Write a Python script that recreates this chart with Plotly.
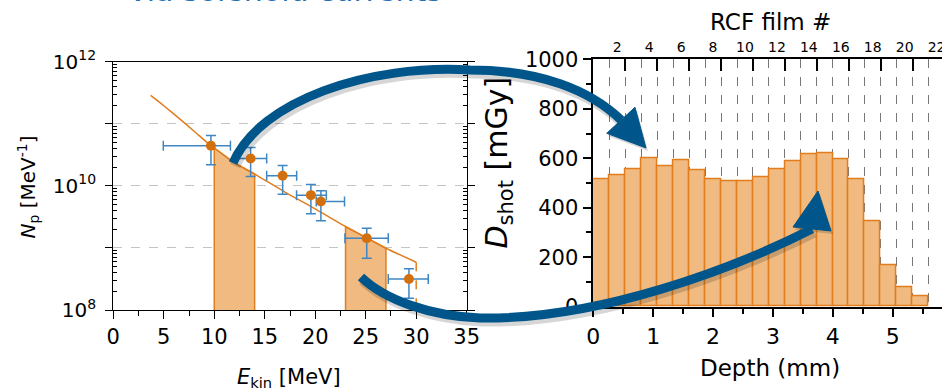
import plotly.graph_objects as go

W, H = 942, 389
FONT = "DejaVu Sans"

# ---------------- Left panel: proton spectrum ----------------
e_kin = [9.67, 13.6, 16.77, 19.57, 20.56, 25.1, 29.28]
n_p = [4.42e10, 2.75e10, 1.45e10, 7.08e9, 5.58e9, 1.43e9, 3.16e8]
e_lo = [4.95, 12.22, 15.19, 18.15, 20.1, 22.94, 27.23]
e_hi = [11.6, 15.19, 18.16, 21.1, 22.9, 27.23, 31.19]
n_lo = [2.18e10, 1.41e10, 7.35e9, 3.55e9, 2.75e9, 6.8e8, 1.55e8]
n_hi = [6.47e10, 4.15e10, 2.12e10, 1.05e10, 8.3e9, 2.07e9, 4.6e8]

fit_e = [3.7, 5, 6.6, 8, 9.67, 10, 12, 14, 17, 20, 23, 25, 27, 30]
fit_n = [2.86e11, 1.95e11, 1.19e11, 7.59e10, 4.42e10, 4.07e10, 2.34e10,
         1.55e10, 7.94e9, 4.27e9, 2.21e9, 1.48e9, 9.89e8, 5.89e8]

windows = [(10, 14), (23, 27)]
cutoff_e = 30
y_floor = 1e8

# ---------------- Right panel: depth dose ----------------
film_no = list(range(1, 22))
dose = [515, 530, 557, 600, 567, 590, 551, 515, 508, 508, 524, 557,
        589, 617, 620, 596, 516, 345, 166, 77, 44]
film_labels = list(range(2, 23, 2))

ORANGE = "#E07E1E"
FILL = "#F0BA80"
DOT = "#D2700F"
EBLUE = "#3F86C2"
ARROW = "#00568A"

fig = go.Figure()

for lo, hi in windows:
    xs = [lo] + [e for e in fit_e if lo <= e <= hi] + [hi]
    ys = [y_floor] + [n for e, n in zip(fit_e, fit_n) if lo <= e <= hi] + [y_floor]
    fig.add_trace(go.Scatter(x=xs, y=ys, mode="lines", fill="toself",
                             fillcolor=FILL, line=dict(color=ORANGE, width=1.5),
                             xaxis="x", yaxis="y", hoverinfo="skip"))

fig.add_trace(go.Scatter(x=fit_e, y=fit_n, mode="lines",
                         line=dict(color=ORANGE, width=1.5, shape="spline", smoothing=0.6),
                         xaxis="x", yaxis="y", hoverinfo="skip"))
fig.add_trace(go.Scatter(x=[cutoff_e, cutoff_e], y=[fit_n[-1], y_floor], mode="lines",
                         line=dict(color=ORANGE, width=1.5, dash="dash"),
                         xaxis="x", yaxis="y", hoverinfo="skip"))

fig.add_trace(go.Scatter(
    x=e_kin, y=n_p, mode="markers",
    marker=dict(color=DOT, size=10),
    error_x=dict(type="data", symmetric=False,
                 array=[h - e for h, e in zip(e_hi, e_kin)],
                 arrayminus=[e - l for e, l in zip(e_kin, e_lo)],
                 color=EBLUE, thickness=1.5, width=5),
    error_y=dict(type="data", symmetric=False,
                 array=[h - n for h, n in zip(n_hi, n_p)],
                 arrayminus=[n - l for n, l in zip(n_p, n_lo)],
                 color=EBLUE, thickness=1.5, width=5),
    xaxis="x", yaxis="y", hoverinfo="skip"))

fig.add_trace(go.Bar(x=film_no, y=dose, width=1, xaxis="x3", yaxis="y2",
                     marker=dict(color=FILL, line=dict(color=ORANGE, width=1.5)),
                     hoverinfo="skip"))
fig.add_trace(go.Scatter(x=[0], y=[0], mode="markers", marker=dict(opacity=0),
                         xaxis="x2", yaxis="y2", hoverinfo="skip"))
fig.add_trace(go.Scatter(x=[1], y=[0], mode="markers", marker=dict(opacity=0),
                         xaxis="x4", yaxis="y2", hoverinfo="skip"))

decades = [1e8, 1e9, 1e10, 1e11, 1e12]
dec_text = ["10<sup>8</sup>", "", "10<sup>10</sup>", "", "10<sup>12</sup>"]
minor_log = [k * d for d in decades[:-1] for k in range(2, 10)]

film_w = 5.6 / len(film_no)
x2_max = (W - 593.3) / 59.88
x3_range = [0.5, 0.5 + x2_max / film_w]

axis_common = dict(showgrid=False, zeroline=False, showline=True,
                   linecolor="black", tickcolor="black")

fig.update_layout(
    width=W, height=H, margin=dict(l=0, r=0, t=0, b=0, autoexpand=False),
    paper_bgcolor="white", plot_bgcolor="rgba(0,0,0,0)",
    showlegend=False, hovermode=False, bargap=0,
    font=dict(family=FONT, color="black"),
    xaxis=dict(**axis_common, domain=[113.3 / W, 466.7 / W], anchor="y",
               range=[0, 35], tickmode="array", tickvals=list(range(0, 36, 5)),
               ticks="outside", ticklen=8, tickwidth=1.2, linewidth=1.3,
               mirror=True, tickfont=dict(size=21),
               minor=dict(tick0=0, dtick=2.5, ticks="outside", ticklen=5,
                          tickwidth=1.2, tickcolor="black")),
    yaxis=dict(**axis_common, domain=[1 - 310 / H, 1 - 61.7 / H], anchor="x",
               type="log", range=[8, 12], tickmode="array", tickvals=decades,
               ticktext=dec_text, ticks="outside", ticklen=7, tickwidth=1.2,
               ticklabelstandoff=5,
               linewidth=1.3, mirror="allticks", tickfont=dict(size=20)),
    xaxis2=dict(**axis_common, domain=[593.3 / W, 1], anchor="y2",
                range=[0, x2_max], tickmode="array", tickvals=[0, 1, 2, 3, 4, 5],
                ticks="outside", ticklen=9, tickwidth=1.5, linewidth=1.5,
                tickfont=dict(size=22),
                minor=dict(tick0=0, dtick=0.5, ticks="outside", ticklen=6,
                           tickwidth=1.5, tickcolor="black")),
    yaxis2=dict(**axis_common, domain=[1 - 306.7 / H, 1 - 59.3 / H], anchor="x2",
                range=[0, 1000], tickmode="array", tickvals=list(range(0, 1001, 200)),
                ticks="outside", ticklen=9, tickwidth=1.5, linewidth=1.5,
                tickfont=dict(size=21),
                minor=dict(tick0=0, dtick=100, ticks="outside", ticklen=6,
                           tickwidth=1.5, tickcolor="black")),
    xaxis3=dict(showgrid=False, zeroline=False, showline=True, linecolor="black",
                linewidth=1.5, overlaying="x2", side="top", anchor="y2",
                range=x3_range, tickmode="array", tickvals=film_labels,
                ticktext=[str(v) for v in film_labels], ticks="",
                ticklabeloverflow="allow", tickfont=dict(size=14),
                minor=dict(tickmode="array",
                           tickvals=[n + 0.5 for n in film_no],
                           showgrid=True, griddash="dash", gridcolor="#777777",
                           gridwidth=1, ticks="")),
    xaxis4=dict(showgrid=False, zeroline=False, showline=False,
                overlaying="x2", side="top", anchor="y2", range=x3_range,
                tickmode="array", tickvals=[n + 0.5 for n in film_no if n % 2 == 0 and n < 21],
                ticks="inside", ticklen=12, tickwidth=1.5, tickcolor="black",
                showticklabels=False),
)
fig.layout.yaxis.minor = dict(tickmode="array", tickvals=minor_log, ticks="inside",
                              ticklen=4, tickwidth=1, tickcolor="black")
fig.layout.yaxis.showgrid = True
fig.layout.yaxis.griddash = "dash"
fig.layout.yaxis.gridcolor = "#c4c4c4"
fig.layout.yaxis.gridwidth = 1


def px(x, y):
    return f"{x / W:.5f},{1 - y / H:.5f}"


arrow_paths = [
    [(233, 163), (260, 100), (370, 64), (470, 70), (540, 70), (590, 90), (621, 120)],
    [(361, 277), (385, 300), (430, 316), (480, 318), (600, 320), (735, 268), (812, 229)],
]
arrow_heads = [
    [(646, 148), (606.7, 133.3), (635, 107.3)],
    [(818, 191), (793, 227), (831, 231)],
]


def curve_path(pts, dx=0, dy=0):
    p = [(x + dx, y + dy) for x, y in pts]
    return (f"M {px(*p[0])} C {px(*p[1])} {px(*p[2])} {px(*p[3])} "
            f"C {px(*p[4])} {px(*p[5])} {px(*p[6])}")


def head_path(pts, dx=0, dy=0):
    p = [(x + dx, y + dy) for x, y in pts]
    return f"M {px(*p[0])} L {px(*p[1])} L {px(*p[2])} Z"


shapes = []
for pts, hd in zip(arrow_paths, arrow_heads):
    shapes.append(dict(type="path", xref="paper", yref="paper", layer="above",
                       path=curve_path(pts, 2, 3),
                       line=dict(color="rgba(0,0,0,0.16)", width=11)))
    shapes.append(dict(type="path", xref="paper", yref="paper", layer="above",
                       path=head_path(hd, 2, 3), fillcolor="rgba(0,0,0,0.16)",
                       line=dict(width=0)))
for pts, hd in zip(arrow_paths, arrow_heads):
    shapes.append(dict(type="path", xref="paper", yref="paper", layer="above",
                       path=curve_path(pts), line=dict(color=ARROW, width=9)))
    shapes.append(dict(type="path", xref="paper", yref="paper", layer="above",
                       path=head_path(hd), fillcolor=ARROW,
                       line=dict(color=ARROW, width=1)))
fig.update_layout(shapes=shapes)

ann = [
    dict(text="via solenoid currents", x=285 / W, y=1 - 10 / H, xanchor="center",
         yanchor="bottom", font=dict(size=30, color="#2270B5")),
    dict(text="<i>N</i><sub>p</sub> [MeV<sup>-1</sup>]", x=28 / W, y=1 - 187.5 / H,
         textangle=-90, xanchor="center", yanchor="middle", font=dict(size=20)),
    dict(text="<i>E</i><sub>kin</sub> [MeV]", x=289 / W, y=1 - 378 / H,
         xanchor="center", yanchor="middle", font=dict(size=21)),
    dict(text="<i>D</i><sub>shot</sub> [mGy]", x=498 / W, y=1 - 162.5 / H,
         textangle=-90, xanchor="center", yanchor="middle", font=dict(size=30)),
    dict(text="Depth (mm)", x=770 / W, y=1 - 368 / H, xanchor="center",
         yanchor="middle", font=dict(size=23)),
    dict(text="RCF film #", x=770 / W, y=1 - 22 / H, xanchor="center",
         yanchor="middle", font=dict(size=23)),
]
for a in ann:
    a.update(xref="paper", yref="paper", showarrow=False)
fig.update_layout(annotations=ann)

fig.write_html("out.html", config={"displayModeBar": False},
               post_script="document.body.style.margin='0';document.body.style.overflow='hidden';")
